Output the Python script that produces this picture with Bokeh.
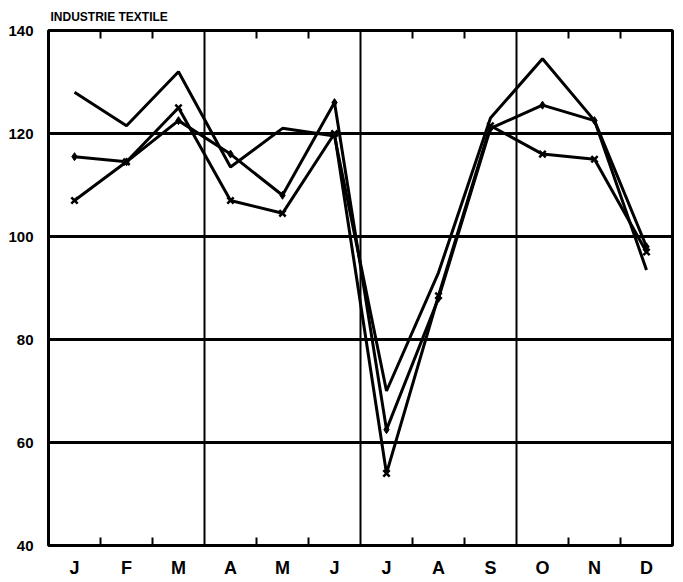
from bokeh.plotting import figure
from bokeh.models import FixedTicker, LinearAxis, Range1d
from bokeh.embed import file_html
from bokeh.resources import INLINE

months = ["J", "F", "M", "A", "M", "J", "J", "A", "S", "O", "N", "D"]
series_plain = [128, 121.5, 132, 113.5, 121, 119.5, 70, 93, 123, 134.5, 122.5, 93.5]
series_dot = [115.5, 114.5, 122.5, 116, 108, 126, 62.5, 88, 121, 125.5, 122.5, 98]
series_cross = [107, 114.5, 125, 107, 104.5, 120, 54, 88.5, 121.5, 116, 115, 97]
y_ticks = [40, 60, 80, 100, 120, 140]
title_text = "INDUSTRIE TEXTILE"

xs = [i + 0.5 for i in range(len(months))]
FONT = "Liberation Sans"

p = figure(width=675, height=580, output_backend="svg", toolbar_location=None,
           x_range=Range1d(0, 12), y_range=Range1d(40, 140),
           min_border_left=48, min_border_right=3, min_border_top=30, min_border_bottom=32,
           x_axis_location=None, y_axis_location=None)
p.background_fill_color = "white"
p.border_fill_color = "white"
p.outline_line_color = "black"
p.outline_line_width = 3

p.title.text = title_text
p.title.align = "left"
p.title.offset = 2
p.title.text_font = FONT
p.title.text_font_style = "bold"
p.title.text_font_size = "12px"
p.title.text_color = "black"
p.title.standoff = 14

# grids
p.xgrid.ticker = FixedTicker(ticks=[3, 6, 9])
p.xgrid.grid_line_color = "black"
p.xgrid.grid_line_width = 2
p.ygrid.ticker = FixedTicker(ticks=[60, 80, 100, 120])
p.ygrid.grid_line_color = "black"
p.ygrid.grid_line_width = 3

minor = [1, 2, 4, 5, 7, 8, 10, 11]
xb = LinearAxis(ticker=FixedTicker(ticks=xs, minor_ticks=minor))
xb.major_label_overrides = {x: m for x, m in zip(xs, months)}
xb.axis_line_color = None
xb.major_tick_line_color = None
xb.minor_tick_in = 8
xb.minor_tick_out = 0
xb.minor_tick_line_width = 2
xb.major_label_text_font = FONT
xb.major_label_text_font_style = "bold"
xb.major_label_text_font_size = "18px"
xb.major_label_text_color = "black"
xb.major_label_standoff = 6
p.add_layout(xb, "below")

xt = LinearAxis(ticker=FixedTicker(ticks=[], minor_ticks=minor))
xt.axis_line_color = None
xt.major_tick_line_color = None
xt.minor_tick_in = 8
xt.minor_tick_out = 0
xt.minor_tick_line_width = 2
xt.major_label_text_font_size = "0px"
xt.major_label_standoff = 0
p.add_layout(xt, "above")

yl = LinearAxis(ticker=FixedTicker(ticks=y_ticks))
yl.axis_line_color = None
yl.major_tick_line_color = None
yl.minor_tick_line_color = None
yl.major_label_text_font = FONT
yl.major_label_text_font_style = "bold"
yl.major_label_text_font_size = "15px"
yl.major_label_text_color = "black"
yl.major_label_standoff = 9
p.add_layout(yl, "left")

# series
p.line(xs, series_plain, line_color="black", line_width=3)
p.line(xs, series_dot, line_color="black", line_width=3)
p.scatter(xs, series_dot, marker="diamond", size=8, fill_color="black", line_color="black")
p.line(xs, series_cross, line_color="black", line_width=3)
p.scatter(xs, series_cross, marker="x", size=9, line_color="black", line_width=2.5)

open("out.html", "w").write(file_html(p, INLINE))
